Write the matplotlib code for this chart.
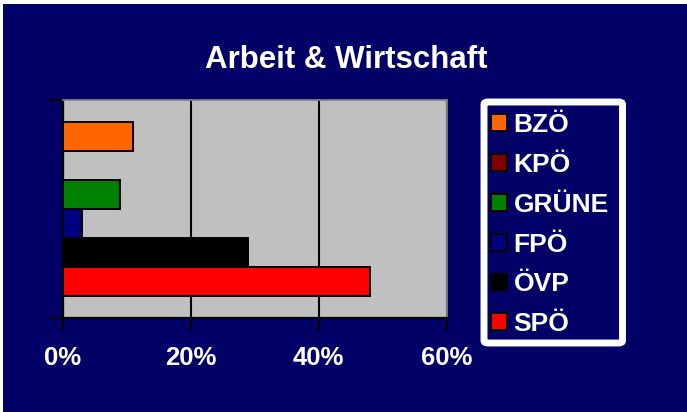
import matplotlib
matplotlib.use("Agg")
import matplotlib.pyplot as plt
from matplotlib.patches import Rectangle, FancyBboxPatch

# data, bottom to top as drawn
parties = ["SPÖ", "ÖVP", "FPÖ", "GRÜNE", "KPÖ", "BZÖ"]
shares = [48, 29, 3, 9, 0, 11]
colors = ["#FF0000", "#000000", "#000080", "#008000", "#800000", "#FF6600"]
xticks = [0, 20, 40, 60]
xlabels = ["0%", "20%", "40%", "60%"]
title = "Arbeit & Wirtschaft"

navy = "#000066"
plt.rcParams['font.family'] = ['Liberation Sans', 'DejaVu Sans']
plt.rcParams['font.weight'] = 'bold'

fig = plt.figure(figsize=(6.87, 4.12), dpi=100, facecolor=navy)
ax = fig.add_axes([62.7/687, 94/412, 384/687, 218/412])
ax.set_facecolor("#C0C0C0")

bars = ax.barh(range(len(parties)), shares, height=1.0, color=colors,
               edgecolor="black", linewidth=1.4, zorder=3)

ax.set_xlim(0, 60)
ax.set_ylim(-0.5 - 0.74, len(parties) - 0.5 + 0.74)
ax.set_xticks(xticks)
ax.set_xticklabels(xlabels, color="white", fontsize=18.5, fontweight="bold")
ax.set_yticks(ax.get_ylim())
ax.set_yticklabels([])
ax.tick_params(axis="x", length=9, width=1.5, color="black", pad=11)
ax.tick_params(axis="y", length=10, width=1.5, color="black")
ax.grid(axis="x", color="black", linewidth=1.5, zorder=1)

for side in ["left", "bottom"]:
    ax.spines[side].set_color("black")
    ax.spines[side].set_linewidth(1.6)
for side in ["top", "right"]:
    ax.spines[side].set_color("#808080")
    ax.spines[side].set_linewidth(1.3)

fig.text(346.7/687, (412 - 68.3)/412, title, color="white", fontsize=22.5,
         fontweight="bold", ha="center", va="baseline")

# legend frame
frame = FancyBboxPatch((484/687, (412 - 343)/412), 138.5/687, 241/412,
                       boxstyle="round,pad=0,rounding_size=0.006",
                       transform=fig.transFigure, facecolor=navy,
                       edgecolor="white", linewidth=5)
fig.patches.append(frame)

handles = list(bars)[::-1]
labels = parties[::-1]
leg = fig.legend(handles, labels, loc="upper left",
                 bbox_to_anchor=(491/687, (412 - 113)/412),
                 frameon=False, fontsize=19, borderpad=0, borderaxespad=0,
                 handlelength=0.6, handleheight=0.6, handletextpad=0.25,
                 labelspacing=0.6)
for t in leg.get_texts():
    t.set_color("white")
    t.set_fontweight("bold")

# thin white strips at the top and left edge
fig.patches.append(Rectangle((0, 1 - 4/412), 1, 4/412, transform=fig.transFigure,
                             facecolor="white", edgecolor="none"))
fig.patches.append(Rectangle((0, 0), 3/687, 1, transform=fig.transFigure,
                             facecolor="white", edgecolor="none"))

fig.savefig("out.png", dpi=100, facecolor=navy)
